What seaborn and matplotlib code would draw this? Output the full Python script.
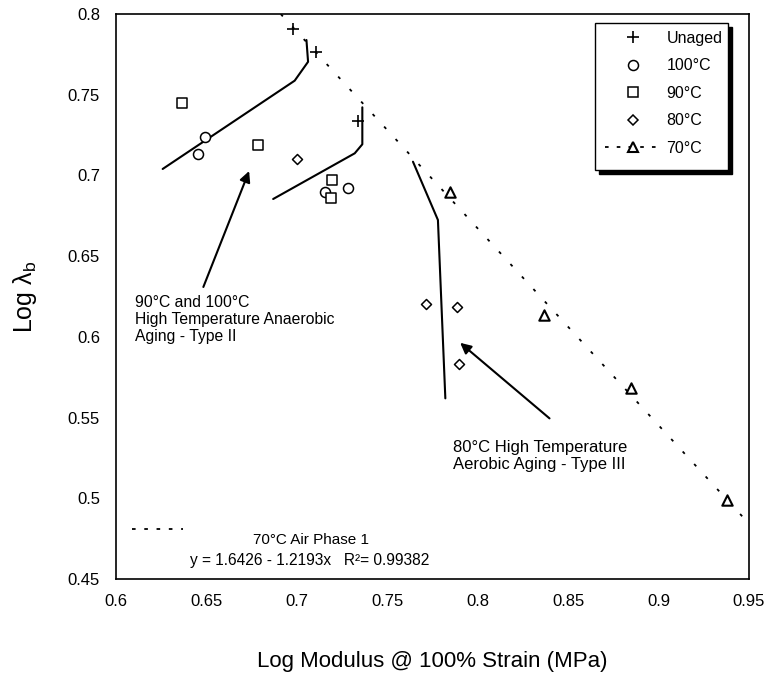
import numpy as np
import matplotlib
matplotlib.use("Agg")
import matplotlib.pyplot as plt
from matplotlib.lines import Line2D
from matplotlib.patches import Rectangle
import seaborn as sns

# Tensile data: log modulus @ 100% strain vs log elongation at break
unaged_x = [0.6976, 0.7104, 0.7338]
unaged_y = [0.7905, 0.7766, 0.7337]
t100_x = [0.6491, 0.6454, 0.7154, 0.7283]
t100_y = [0.7240, 0.7131, 0.6899, 0.6920]
t90_x = [0.6363, 0.6786, 0.7197, 0.7191]
t90_y = [0.7447, 0.7188, 0.6971, 0.6858]
t80_x = [0.7001, 0.7716, 0.7885, 0.7894]
t80_y = [0.7100, 0.6201, 0.6183, 0.5830]
t70_x = [0.7848, 0.8369, 0.8848, 0.9381]
t70_y = [0.6899, 0.6135, 0.5681, 0.4989]

# 70 C air, phase 1 regression
fit_intercept = 1.6426
fit_slope = -1.2193
fit_r2 = 0.99382
fit_x_range = [0.6911, 0.9480]

# Hand-drawn aging trend curves
type2_upper_x = [0.6258, 0.6988, 0.7062, 0.7053]
type2_upper_y = [0.7040, 0.7587, 0.7704, 0.7839]
type2_lower_x = [0.6869, 0.7320, 0.7362, 0.7362]
type2_lower_y = [0.6854, 0.7137, 0.7193, 0.7422]
type3_x = [0.7642, 0.7780, 0.7821]
type3_y = [0.7085, 0.6724, 0.5619]

x_ticks = [0.6, 0.65, 0.7, 0.75, 0.8, 0.85, 0.9, 0.95]
x_tick_labels = ["0.6", "0.65", "0.7", "0.75", "0.8", "0.85", "0.9", "0.95"]
y_ticks = [0.45, 0.5, 0.55, 0.6, 0.65, 0.7, 0.75, 0.8]
y_tick_labels = ["0.45", "0.5", "0.55", "0.6", "0.65", "0.7", "0.75", "0.8"]

legend_labels = ["Unaged", "100°C", "90°C", "80°C", "70°C"]

sns.set_style("white")
plt.rcParams["font.family"] = ["Liberation Sans", "DejaVu Sans"]
plt.rcParams["mathtext.fontset"] = "custom"
plt.rcParams["mathtext.rm"] = "Liberation Sans"
plt.rcParams["mathtext.it"] = "Liberation Sans:italic"
for key in ["text.color", "axes.labelcolor", "xtick.color", "ytick.color",
            "axes.edgecolor"]:
    plt.rcParams[key] = "black"

fig = plt.figure(figsize=(7.68, 6.77), dpi=100)
ax = fig.add_axes([116 / 768, 1 - 579 / 677, 633 / 768, 565 / 677])

# regression line from the stated equation
fit_x = np.array(fit_x_range)
fit_y = fit_intercept + fit_slope * fit_x
dotted = (0, (1.7, 7.7))
sns.lineplot(x=fit_x, y=fit_y, ax=ax, color="black", lw=1.3,
             linestyle=dotted, sort=False, estimator=None, zorder=2)

# trend curves
for cx, cy in [(type2_upper_x, type2_upper_y),
               (type2_lower_x, type2_lower_y),
               (type3_x, type3_y)]:
    sns.lineplot(x=cx, y=cy, ax=ax, color="black", lw=1.5,
                 sort=False, estimator=None, zorder=2)

# data points
hollow = dict(facecolor="white", edgecolor="black", linewidth=1.1, zorder=3)
sns.scatterplot(x=unaged_x, y=unaged_y, ax=ax, marker="+", s=64,
                color="black", linewidth=1.2, zorder=3)
sns.scatterplot(x=t100_x, y=t100_y, ax=ax, marker="o", s=52, **hollow)
sns.scatterplot(x=t90_x, y=t90_y, ax=ax, marker="s", s=52, **hollow)
sns.scatterplot(x=t80_x, y=t80_y, ax=ax, marker="D", s=26, **hollow)
sns.scatterplot(x=t70_x, y=t70_y, ax=ax, marker="^", s=56,
                facecolor="white", edgecolor="black", linewidth=1.5, zorder=3)

ax.set_xlim(0.6, 0.95)
ax.set_ylim(0.45, 0.8)
ax.set_xticks(x_ticks)
ax.set_xticklabels(x_tick_labels)
ax.set_yticks(y_ticks)
ax.set_yticklabels(y_tick_labels)
ax.tick_params(axis="both", length=0, labelsize=12, colors="black")
ax.tick_params(axis="x", pad=10.5)
ax.tick_params(axis="y", pad=11.5)
for sp in ax.spines.values():
    sp.set_color("black")
    sp.set_linewidth(1.2)

ax.set_xlabel("Log Modulus @ 100% Strain (MPa)", fontsize=16, va="center")
ax.xaxis.set_label_coords(0.5, (579 - 661) / 565)
ax.set_ylabel(r"Log $\mathregular{\lambda_b}$", fontsize=18, va="center")
ax.yaxis.set_label_coords((25 - 116) / 633, 0.5)

# annotations with arrows
ax.annotate("", xy=(0.6736, 0.7027), xytext=(0.6483, 0.6309),
            arrowprops=dict(arrowstyle="-|>", color="black", lw=1.5,
                            mutation_scale=16, shrinkA=0, shrinkB=0))
ax.text(0.6105, 0.6108,
        "90°C and 100°C\nHigh Temperature Anaerobic\nAging - Type II",
        fontsize=11.3, ha="left", va="center", linespacing=1.2)

ax.annotate("", xy=(0.7903, 0.5963), xytext=(0.8397, 0.5495),
            arrowprops=dict(arrowstyle="-|>", color="black", lw=1.5,
                            mutation_scale=16, shrinkA=0, shrinkB=0))
ax.text(0.7861, 0.5263, "80°C High Temperature\nAerobic Aging - Type III",
        fontsize=12, ha="left", va="center", linespacing=1.12)

# regression key at the bottom
ax.plot([0.6087, 0.6372], [0.4807, 0.4807], color="black", lw=1.3,
        linestyle=(0, (2.0, 4.8)))
ax.text(0.7077, 0.4741, "70°C Air Phase 1", fontsize=11,
        ha="center", va="center")
ax.text(0.7072, 0.4617,
        f"y = {fit_intercept:.4f} - {abs(fit_slope):.4f}x   R²= {fit_r2:.5f}",
        fontsize=11.2, ha="center", va="center")

# legend box with drop shadow
bx0, by0, bx1, by1 = 595, 23, 728, 170
shadow = Rectangle(((bx0 + 4) / 768, 1 - (by1 + 4) / 677),
                   (bx1 - bx0) / 768, (by1 - by0) / 677,
                   transform=fig.transFigure, facecolor="black",
                   edgecolor="black", lw=1, zorder=3)
box = Rectangle((bx0 / 768, 1 - by1 / 677), (bx1 - bx0) / 768,
                (by1 - by0) / 677, transform=fig.transFigure,
                facecolor="white", edgecolor="black", lw=1, zorder=4)
fig.add_artist(shadow)
fig.add_artist(box)

handles = [
    Line2D([], [], ls="none", marker="+", color="black", ms=8, mew=1.2),
    Line2D([], [], ls="none", marker="o", mfc="white", mec="black", ms=7.2, mew=1.1),
    Line2D([], [], ls="none", marker="s", mfc="white", mec="black", ms=7.2, mew=1.1),
    Line2D([], [], ls="none", marker="D", mfc="white", mec="black", ms=5.1, mew=1.1),
    Line2D([], [], color="black", lw=1.3, linestyle=(0, (2.0, 4.5)),
           marker="^", mfc="white", mec="black", ms=7.5, mew=1.5),
]
leg = fig.legend(handles, legend_labels, loc="upper left",
                 bbox_to_anchor=(605 / 768, 1 - 31 / 677), frameon=False,
                 borderpad=0, borderaxespad=0, handlelength=3.5,
                 handletextpad=0.35, labelspacing=0.78, fontsize=11.5)
leg.set_zorder(6)

fig.savefig("out.png", dpi=100)
